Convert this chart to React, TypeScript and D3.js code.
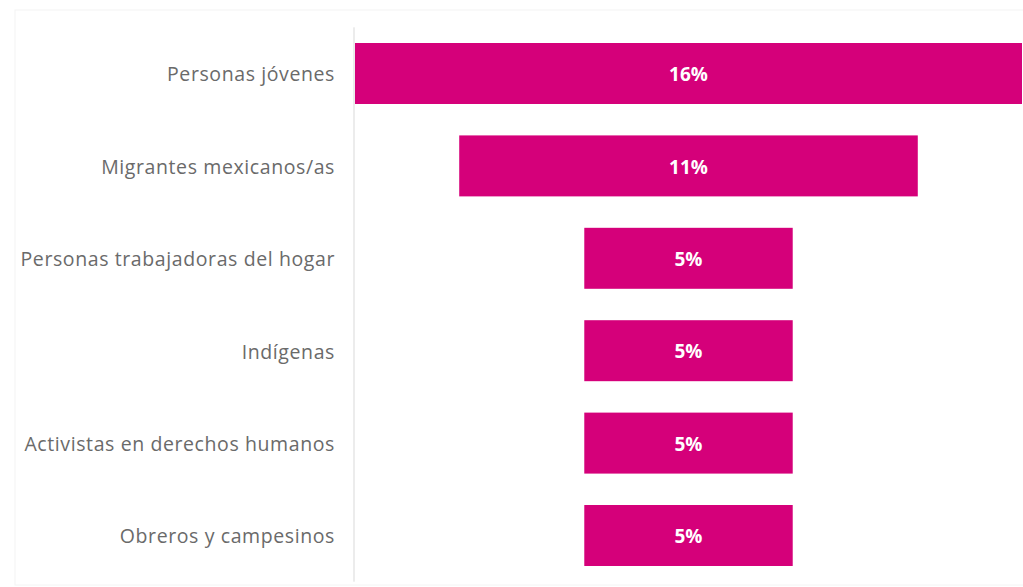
import React from "react";
import * as d3 from "d3";

const categories = [
  "Personas jóvenes",
  "Migrantes mexicanos/as",
  "Personas trabajadoras del hogar",
  "Indígenas",
  "Activistas en derechos humanos",
  "Obreros y campesinos",
];
const values = [16, 11, 5, 5, 5, 5];
const valueLabels = ["16%", "11%", "5%", "5%", "5%", "5%"];

const W = 1023;
const H = 587;

export default function App() {
  const maxV = d3.max(values) as number;
  const x = d3.scaleLinear().domain([-maxV / 2, maxV / 2]).range([355, 1022]);
  const y = d3
    .scaleBand<string>()
    .domain(categories)
    .range([27.3, 581.7])
    .paddingInner(0.34)
    .paddingOuter(0.17);

  return (
    <svg
      width={W}
      height={H}
      style={{ position: "absolute", left: 0, top: 0, background: "#fff" }}
    >
      <rect x={15} y={10} width={1010} height={575} fill="none" stroke="#f4f4f4" />
      <line x1={354} x2={354} y1={y.range()[0]} y2={y.range()[1]} stroke="#d9d9d9" strokeWidth={1} />
      {categories.map((c, i) => {
        const v = values[i];
        const y0 = y(c) as number;
        const bh = y.bandwidth();
        return (
          <g key={c}>
            <rect
              x={x(-v / 2)}
              y={y0}
              width={x(v / 2) - x(-v / 2)}
              height={bh}
              fill="#D5007A"
            />
            <text
              x={x(0)}
              y={y0 + bh / 2 + 1}
              dy="0.35em"
              textAnchor="middle"
              fill="#fff"
              fontFamily="Open Sans"
              fontWeight={700}
              fontSize={19}
            >
              {valueLabels[i]}
            </text>
            <text
              x={335}
              y={y0 + bh / 2 + 1}
              dy="0.35em"
              textAnchor="end"
              fill="#6a6a6a"
              fontFamily="Open Sans"
              fontSize={19.5}
              letterSpacing={0.6}
            >
              {c}
            </text>
          </g>
        );
      })}
    </svg>
  );
}
